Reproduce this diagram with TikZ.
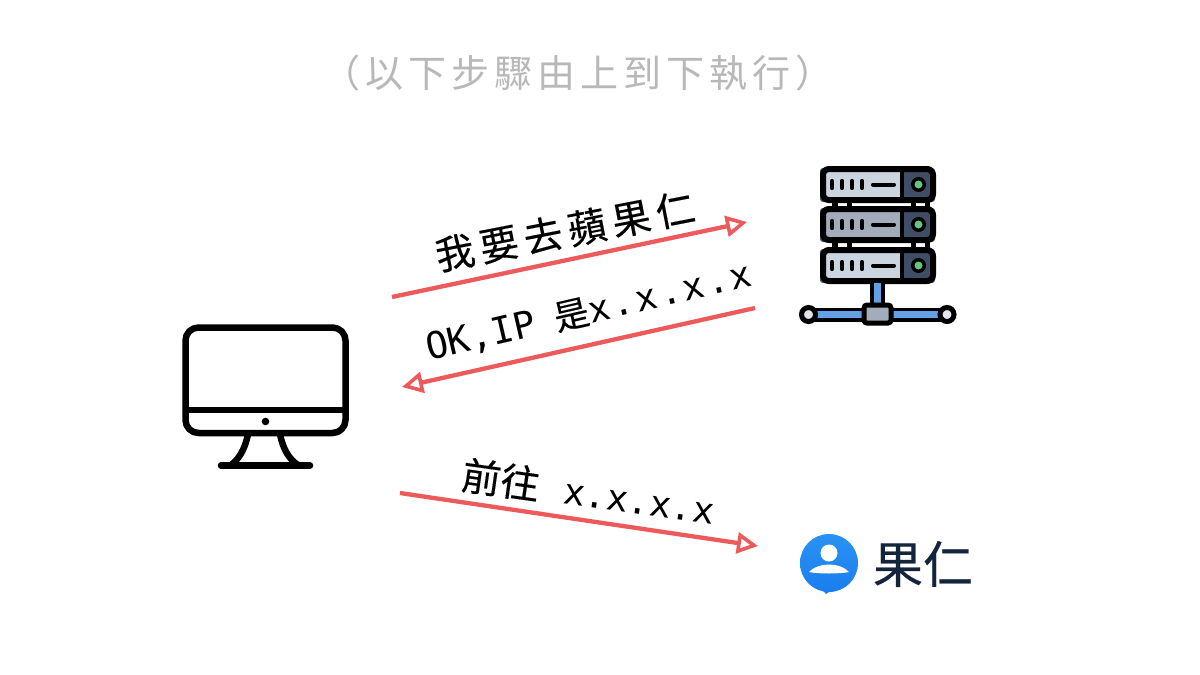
\documentclass[tikz,border=0pt]{standalone}
\usepackage{fontspec}
\usetikzlibrary{arrows.meta}
\setmainfont{Noto Sans CJK TC}
\newfontfamily\titlefont[LetterSpace=13]{Noto Sans CJK TC}
\newfontfamily\handfont[LetterSpace=15,FakeBold=0.25]{Noto Sans CJK TC}
\newfontfamily\cjkfont[FakeBold=0.25]{Noto Sans CJK TC}
\newfontfamily\brandfont[FakeBold=0.4]{Noto Sans CJK TC}
\newfontfamily\latinfont{DejaVu Sans Mono}
\newfontfamily\widelatin[LetterSpace=7]{DejaVu Sans Mono}
\definecolor{arrowred}{HTML}{EC5A5C}
\definecolor{titlegrey}{HTML}{B8B8B8}
\definecolor{srvlight}{HTML}{CBD5DF}
\definecolor{srvmid}{HTML}{A2ACBB}
\definecolor{srvdark}{HTML}{3F4E64}
\definecolor{srvblue}{HTML}{64A0E4}
\definecolor{srvgreen}{HTML}{63C484}
\definecolor{logoblue}{HTML}{1A7EEE}
\definecolor{logolight}{HTML}{2A92F4}
\definecolor{logotext}{HTML}{13243C}
\tikzset{
  flow/.style={draw=arrowred,line width=4.3pt,-{Triangle[open,length=21pt,width=21pt,line width=3.6pt,fill=white]}},
  hand/.style={text=black,inner sep=0pt,font=\fontsize{39}{39}\selectfont\cjkfont},
  icon/.style={line width=6.5pt,draw=black,line join=round,line cap=round},
  srvicon/.style={line width=6pt,draw=black,line join=round},
}
\newcommand{\srvunit}[2]{%
  \fill[srvdark,rounded corners=3pt] (820,#1) rectangle (935,#1+34);
  \fill[#2,rounded corners=2pt] (822,#1+2) rectangle (902,#1+32);
  \draw[srvicon,rounded corners=6pt] (823,#1+1) rectangle (933,#1+32);
  \draw[line width=4.5pt] (902,#1+1) -- (902,#1+32);
  \fill[black] (918.5,#1+16.5) circle (7.5pt);
  \fill[srvgreen] (918.5,#1+16.5) circle (4pt);
  \foreach \dx in {832,842,852,862}{\draw[line width=4.2pt,line cap=round] (\dx,#1+13) -- (\dx,#1+20);}
  \draw[line width=4pt,line cap=round] (873,#1+16.5) -- (894,#1+16.5);
}
\begin{document}
\begin{tikzpicture}[x=1pt,y=-1pt]
\useasboundingbox (0,0) rectangle (1200,675);
\fill[white] (0,0) rectangle (1200,675);

\node[text=titlegrey,inner sep=0pt,font=\fontsize{38}{38}\selectfont\titlefont] (title) at (578,73) {（以下步驟由上到下執行）};

% computer
\draw[icon,rounded corners=13pt] (185.5,327.5) rectangle (345.5,433);
\draw[icon,line cap=butt] (185,410) -- (346,410);
\fill (265.5,421.5) circle (3.8pt);
\draw[icon,line cap=butt] (248,434) .. controls (245,450) and (238,460) .. (231,465);
\draw[icon,line cap=butt] (280,434) .. controls (283,450) and (290,460) .. (298,465);
\draw[icon] (221,465.5) -- (310,465.5);

% server
\fill[black] (832,198) rectangle (838,208);
\fill[black] (847,198) rectangle (852,208);
\fill[black] (911,198) rectangle (916,208);
\fill[black] (925,198) rectangle (930,208);
\fill[black] (832,238) rectangle (838,250);
\fill[black] (847,238) rectangle (852,250);
\fill[black] (911,238) rectangle (916,250);
\fill[black] (925,238) rectangle (930,250);
\srvunit{168}{srvlight}
\srvunit{208}{srvmid}
\srvunit{249}{srvlight}
\draw[line width=15pt] (877,281) -- (877,310);
\draw[line width=7pt,srvblue] (877,283) -- (877,307);
\draw[line width=14pt] (808,314.5) -- (947,314.5);
\draw[line width=7pt,srvblue] (812,314.5) -- (942,314.5);
\draw[line width=5pt,fill=srvmid,rounded corners=3pt] (864,305) rectangle (891,323);
\draw[line width=5pt,fill=srvlight!60!white] (808.5,314.5) circle (7pt);
\draw[line width=5pt,fill=srvlight!60!white] (947,314.5) circle (7pt);

% arrows
\coordinate (a1s) at (392,297);
\coordinate (a1e) at (747,222);
\coordinate (a2s) at (755,308);
\coordinate (a2e) at (402,387);
\coordinate (a3s) at (400,493);
\coordinate (a3e) at (758,546);
\draw[flow] (a1s) -- (a1e);
\draw[flow] (a2s) -- (a2e);
\draw[flow] (a3s) -- (a3e);

% labels
\node[hand,rotate=11,font=\fontsize{39}{39}\selectfont\handfont] (t1) at (565,231) {我要去蘋果仁};
\node[hand,rotate=13] (t2) at (589,312) {{\latinfont\fontsize{37}{37}\selectfont OK,IP}\hspace{20pt}{\fontsize{35}{35}\selectfont 是}{\widelatin\fontsize{36}{36}\selectfont x.x.x.x}};
\node[hand,rotate=-8] (t3) at (588.5,492) {前往\hspace{25pt}{\latinfont\fontsize{36}{36}\selectfont x.x.x.x}};

% logo
\shade[top color=logolight,bottom color=logoblue] (829,563) circle (29pt);
\fill[logoblue] (820,587) -- (836,587) -- (826,594) -- cycle;
\fill[white] (829,553) circle (8.5pt);
\fill[white] (809,572) .. controls (818,562) and (840,562) .. (849,572) .. controls (840,574) and (818,574) .. (809,572) -- cycle;
\node[text=logotext,inner sep=0pt,font=\fontsize{50}{50}\selectfont\brandfont] (brand) at (923,564) {果仁};
\end{tikzpicture}
\end{document}
